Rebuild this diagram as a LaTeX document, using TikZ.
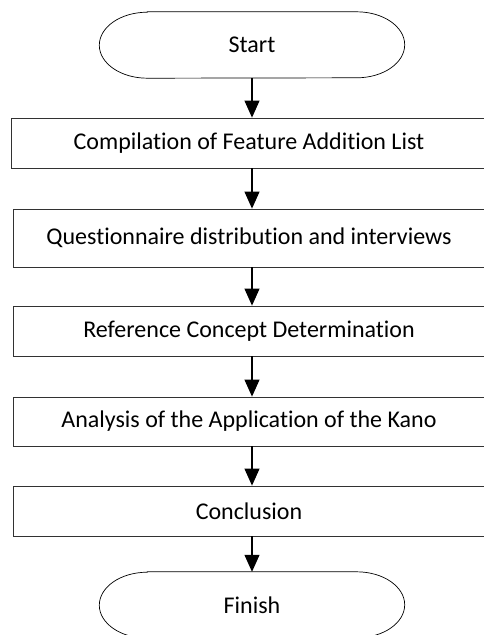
\documentclass[tikz,border=0pt]{standalone}
\usepackage{fontspec}
\setmainfont{Carlito}[Ligatures=NoCommon]
\usepackage{xcolor}
\usepackage{tikz}
\usetikzlibrary{arrows.meta}
\definecolor{boxline}{RGB}{50, 50, 50}

\begin{document}
\begin{tikzpicture}[x=1pt, y=1pt,
    every node/.style={font=\fontsize{24}{28}\selectfont},
    stepbox/.style={draw=boxline, line width=0.8pt, minimum width=472pt, minimum height=50pt, inner sep=0pt},
    terminal/.style={minimum width=305pt, minimum height=66pt, inner sep=0pt},
    flow/.style={-{Triangle[length=17pt, width=15pt]}, line width=1.1pt}]
        \useasboundingbox (0,0) rectangle (484,-635);
        \clip (0,0) rectangle (484,-635);

        % 终端形状
        \def\termoutline#1{\draw[line width=0.7pt]
            ([xshift=48pt]#1.north west) -- ([xshift=-48pt]#1.north east)
            arc[start angle=90, end angle=-90, x radius=48pt, y radius=33pt]
            -- ([xshift=48pt]#1.south west)
            arc[start angle=270, end angle=90, x radius=48pt, y radius=33pt] -- cycle;}

        % 开始 / 结束
        \node[terminal] (start) at (252,-45) {Start};
        \node[terminal] (finish) at (252,-605) {Finish};
        \termoutline{start}
        \termoutline{finish}

        % 步骤
        \node[stepbox, minimum width=476pt] (compile) at (249,-143) {Compilation of Feature Addition List};
        \node[stepbox, minimum height=58pt] (survey) at (249,-238) {Questionnaire distribution and interviews};
        \node[stepbox] (concept) at (249,-331) {Reference Concept Determination};
        \node[stepbox, minimum height=49pt] (kano) at (249,-421.5) {Analysis of the Application of the Kano};
        \node[stepbox] (conclusion) at (249,-511) {Conclusion};

        % 箭头
        \draw[flow] (start.south) -- ([xshift=3pt]compile.north);
        \draw[flow] ([xshift=3pt]compile.south) -- ([xshift=3pt]survey.north);
        \draw[flow] ([xshift=3pt]survey.south) -- ([xshift=3pt]concept.north);
        \draw[flow] ([xshift=3pt]concept.south) -- ([xshift=3pt]kano.north);
        \draw[flow] ([xshift=3pt]kano.south) -- ([xshift=3pt]conclusion.north);
        \draw[flow] ([xshift=3pt]conclusion.south) -- (finish.north);
    \end{tikzpicture}
\end{document}
